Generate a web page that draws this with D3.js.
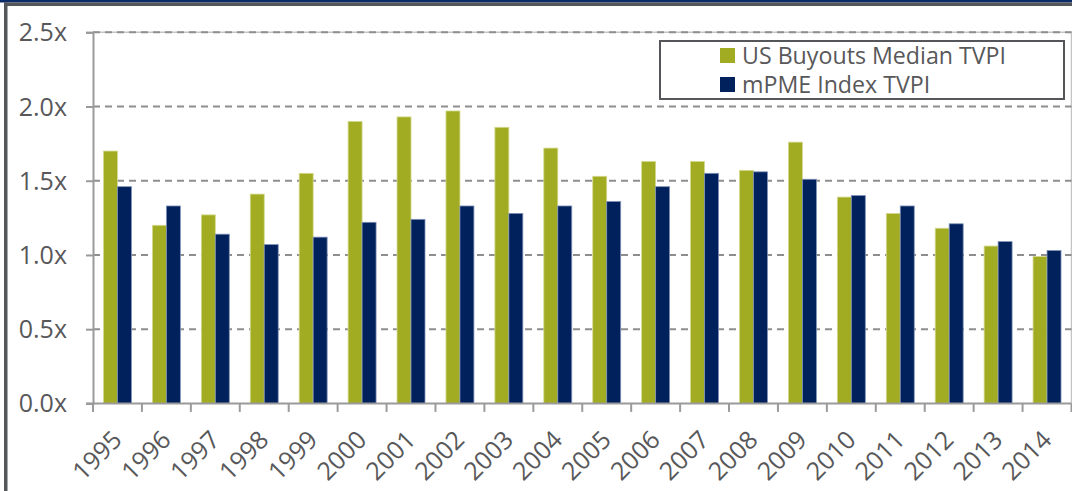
<!DOCTYPE html>
<html>
<head>
<meta charset="utf-8">
<script src="https://cdn.jsdelivr.net/npm/d3@7"></script>
<style>
  html, body { margin: 0; padding: 0; background: #fff; }
  svg { display: block; font-family: "Open Sans", sans-serif; }
</style>
</head>
<body>
<svg id="chart" width="1072" height="491"></svg>
<script>
const years = ['1995', '1996', '1997', '1998', '1999', '2000', '2001', '2002', '2003', '2004',
  '2005', '2006', '2007', '2008', '2009', '2010', '2011', '2012', '2013', '2014'];
const buyoutsMedian = [1.70, 1.20, 1.27, 1.41, 1.55, 1.90, 1.93, 1.97, 1.86, 1.72,
  1.53, 1.63, 1.63, 1.57, 1.76, 1.39, 1.28, 1.18, 1.06, 0.99];
const mpmeIndex = [1.46, 1.33, 1.14, 1.07, 1.12, 1.22, 1.24, 1.33, 1.28, 1.33,
  1.36, 1.46, 1.55, 1.56, 1.51, 1.40, 1.33, 1.21, 1.09, 1.03];
const seriesNames = ['US Buyouts Median TVPI', 'mPME Index TVPI'];
const yTicks = [0, 0.5, 1.0, 1.5, 2.0, 2.5];

const colors = ['#a2ac22', '#00215c'];
const textColor = '#58585a';
const axisColor = '#9a9a9a';

const svg = d3.select('#chart');

// frame bands
svg.append('rect').attr('x', 0).attr('y', 0).attr('width', 1072).attr('height', 2.5).attr('fill', '#0b2a68');
svg.append('rect').attr('x', 4).attr('y', 2.5).attr('width', 1068).attr('height', 3.5).attr('fill', '#55565a');
svg.append('rect').attr('x', 4).attr('y', 2.5).attr('width', 3.5).attr('height', 489).attr('fill', '#55565a');

const plotLeft = 93, plotRight = 1071.5, plotTop = 32.3, plotBottom = 403.4;

const x0 = d3.scaleBand().domain(years).range([plotLeft, plotRight]);
const x1 = d3.scaleBand().domain(seriesNames).range([0, x0.bandwidth()]).paddingOuter(0.75);
const y = d3.scaleLinear().domain([0, 2.5]).range([plotBottom, plotTop]);

const rows = years.map((yr, i) => ({ year: yr, values: [buyoutsMedian[i], mpmeIndex[i]] }));

// plot border top/right
svg.append('path')
  .attr('d', `M${plotLeft},${plotTop}H${plotRight}V${plotBottom}`)
  .attr('fill', 'none').attr('stroke', '#c4c4c4').attr('stroke-width', 1.5);

// gridlines
svg.append('g').selectAll('line')
  .data(yTicks.filter(d => d > 0))
  .join('line')
  .attr('x1', plotLeft).attr('x2', plotRight)
  .attr('y1', d => y(d)).attr('y2', d => y(d))
  .attr('stroke', '#8e8e8e').attr('stroke-width', 2)
  .attr('stroke-dasharray', '7,5');

// bars
const groups = svg.append('g').selectAll('g')
  .data(rows)
  .join('g')
  .attr('transform', d => `translate(${x0(d.year)},0)`);

groups.selectAll('rect')
  .data(d => d.values.map((v, i) => ({ key: seriesNames[i], value: v, idx: i })))
  .join('rect')
  .attr('x', d => x1(d.key))
  .attr('width', x1.bandwidth())
  .attr('y', d => y(d.value))
  .attr('height', d => y(0) - y(d.value))
  .attr('fill', d => colors[d.idx])
  .attr('stroke', d => d.idx === 0 ? '#d4da90' : '#8092b8')
  .attr('stroke-width', 0.8);

// y axis
const yAxis = svg.append('g')
  .attr('transform', `translate(${plotLeft},0)`)
  .call(d3.axisLeft(y).tickValues(yTicks).tickFormat(d => d.toFixed(1) + 'x').tickSize(7).tickPadding(19));
yAxis.select('.domain').attr('stroke', axisColor).attr('stroke-width', 2);
yAxis.selectAll('.tick line').attr('stroke', axisColor).attr('stroke-width', 2);
yAxis.selectAll('.tick text').attr('fill', textColor).style('font-size', '25px')
  .style('font-family', '"Open Sans", sans-serif').attr('dy', '0.34em');

// x axis: boundary ticks
const xAxis = svg.append('g');
xAxis.append('line')
  .attr('x1', plotLeft - 7).attr('x2', plotRight)
  .attr('y1', plotBottom).attr('y2', plotBottom)
  .attr('stroke', axisColor).attr('stroke-width', 2);
xAxis.selectAll('line.tk')
  .data(years.map(d => x0(d)).concat([plotRight]))
  .join('line')
  .attr('class', 'tk')
  .attr('x1', d => d).attr('x2', d => d)
  .attr('y1', plotBottom).attr('y2', plotBottom + 8.5)
  .attr('stroke', axisColor).attr('stroke-width', 2);
xAxis.selectAll('text')
  .data(years)
  .join('text')
  .attr('transform', d => `translate(${x0(d) + x0.bandwidth() / 2 + 6},${plotBottom + 38}) rotate(-45)`)
  .attr('text-anchor', 'end')
  .attr('fill', textColor)
  .style('font-size', '25px')
  .text(d => d);

// legend
const legend = svg.append('g');
legend.append('rect')
  .attr('x', 660).attr('y', 41).attr('width', 404).attr('height', 58)
  .attr('fill', '#fff').attr('stroke', '#55565a').attr('stroke-width', 2);
const items = legend.selectAll('g.item')
  .data(seriesNames)
  .join('g')
  .attr('class', 'item')
  .attr('transform', (d, i) => `translate(720,${48 + i * 29})`);
items.append('rect')
  .attr('width', 15).attr('height', 15)
  .attr('fill', (d, i) => colors[i]);
items.append('text')
  .attr('x', 22).attr('y', 15.5)
  .attr('fill', textColor)
  .style('font-size', '23.2px')
  .text(d => d);
</script>
</body>
</html>
